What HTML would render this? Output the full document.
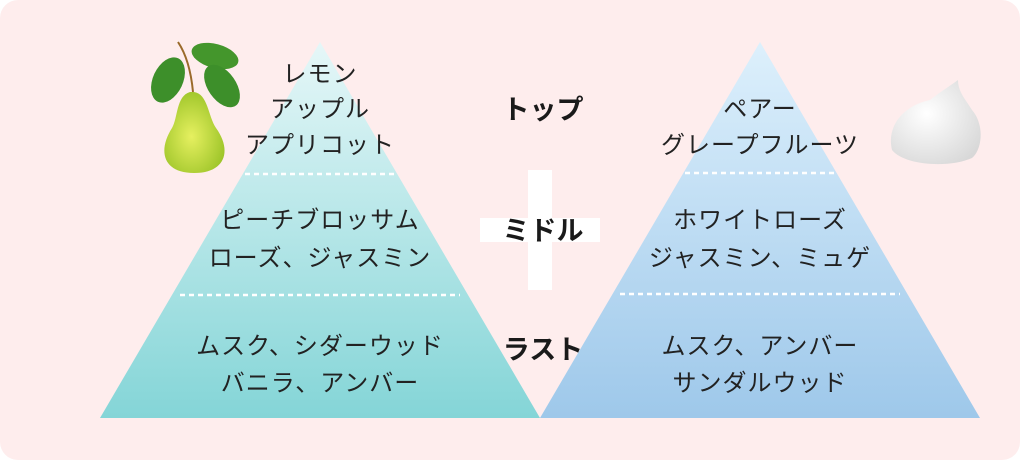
<!DOCTYPE html>
<html><head><meta charset="utf-8"><style>
body{margin:0;width:1020px;height:460px;background:#fff;overflow:hidden}
svg text{font-family:"Liberation Sans","Noto Sans CJK JP",sans-serif}
</style></head><body>
<svg width="1020" height="460" viewBox="0 0 1020 460">
<defs>
<linearGradient id="gl" x1="0" y1="42" x2="0" y2="418" gradientUnits="userSpaceOnUse">
<stop offset="0" stop-color="#e6f7f8"/><stop offset="1" stop-color="#84d5d7"/></linearGradient>
<linearGradient id="gr" x1="0" y1="42" x2="0" y2="418" gradientUnits="userSpaceOnUse">
<stop offset="0" stop-color="#ddf0fc"/><stop offset="1" stop-color="#9ec8ea"/></linearGradient>
<radialGradient id="pear" cx="0.45" cy="0.55" r="0.6"><stop offset="0" stop-color="#e6f060"/><stop offset="1" stop-color="#9cc428"/></radialGradient>
<radialGradient id="cream" cx="0.4" cy="0.4" r="0.7"><stop offset="0" stop-color="#ffffff"/><stop offset="1" stop-color="#d8d8d8"/></radialGradient>
</defs>
<rect x="0" y="0" width="1020" height="460" rx="18" fill="#feeded"/>
<polygon points="320,42 100,418 540,418" fill="url(#gl)"/>
<polygon points="760,42 540,418 980,418" fill="url(#gr)"/>
<g stroke="#fff" stroke-width="2.5" stroke-dasharray="5,4">
<line x1="245" y1="174" x2="395" y2="174"/><line x1="180" y1="295" x2="460" y2="295"/>
<line x1="685" y1="173" x2="835" y2="173"/><line x1="620" y1="294" x2="900" y2="294"/>
</g>
<rect x="528" y="170" width="24" height="120" fill="#fff"/>
<rect x="480" y="218" width="120" height="24" fill="#fff"/>
<g font-size="24" letter-spacing="1" fill="#222" text-anchor="middle">
<text x="320" y="82">レモン</text><text x="320" y="117">アップル</text><text x="320" y="153">アプリコット</text>
<text x="320" y="228">ピーチブロッサム</text><text x="320" y="266">ローズ、ジャスミン</text>
<text x="320" y="354">ムスク、シダーウッド</text><text x="320" y="391">バニラ、アンバー</text>
<text x="760" y="117">ペアー</text><text x="760" y="153">グレープフルーツ</text>
<text x="760" y="228">ホワイトローズ</text><text x="760" y="266">ジャスミン、ミュゲ</text>
<text x="760" y="354">ムスク、アンバー</text><text x="760" y="391">サンダルウッド</text>
</g>
<g font-size="27" font-weight="bold" fill="#1a1a1a" text-anchor="middle">
<text x="543" y="119">トップ</text><text x="543" y="240">ミドル</text><text x="543" y="359">ラスト</text>
</g>
<path d="M178,42 Q190,60 193,92" stroke="#9a6a2a" stroke-width="2" fill="none"/>
<ellipse cx="168" cy="80" rx="15" ry="24" transform="rotate(25 168 80)" fill="#3d8f2a"/>
<ellipse cx="215" cy="56" rx="24" ry="12" transform="rotate(15 215 56)" fill="#44962c"/>
<ellipse cx="222" cy="86" rx="14" ry="24" transform="rotate(-35 222 86)" fill="#3d8f2a"/>
<path d="M190,92 C176,96 178,118 172,128 C158,150 162,173 194,173 C226,173 232,150 216,128 C208,116 208,94 194,92Z" fill="url(#pear)"/>
<path d="M892,150 C886,125 905,105 930,100 C940,92 950,86 958,80 C958,92 966,100 972,110 C985,125 982,150 972,158 C950,168 905,166 892,150Z" fill="url(#cream)"/>
</svg>
</body></html>
